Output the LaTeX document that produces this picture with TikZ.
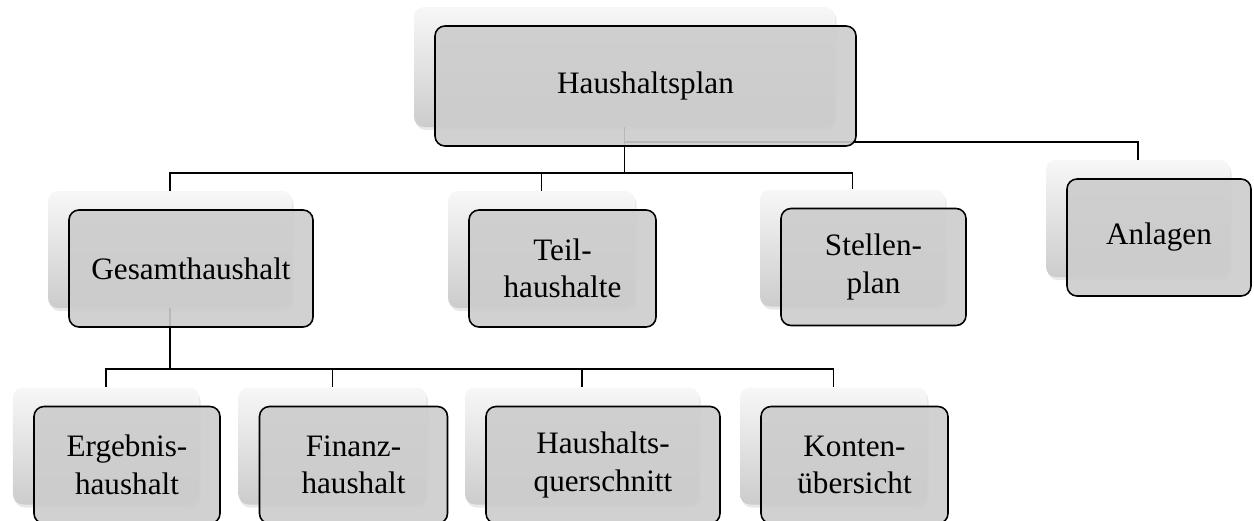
\documentclass[tikz,border=0pt]{standalone}
\usepackage{fontspec}
\setmainfont{Liberation Serif}
\usepackage{tikz}
\usetikzlibrary{positioning,shadows}
\tikzstyle{line} = [draw, line width=1pt]
\tikzstyle{back} = [rounded corners=0.2cm, minimum height=2.34cm, top color=white!97!black, bottom color=white!80!black, drop shadow={opacity=0.18,shadow xshift=0.03cm,shadow yshift=-0.06cm}]
\tikzstyle{box} = [draw, line width=0.9pt, rounded corners=0.2cm, fill=black!20, fill opacity=0.9, text opacity=1, minimum height=2.34cm, align=center, font=\fontsize{17.75}{21.3}\selectfont]

\begin{document}
\begin{tikzpicture}
   		\useasboundingbox (0,0) rectangle (25.08,-10.42);
   		% shadow boxes
   		\node[back, minimum width=8.42cm, minimum height=2.4cm] (planS) at (12.49,-1.34) {};
   		\node[back, minimum width=4.88cm] (gesamtS)  at (3.40,-4.99) {};
   		\node[back, minimum width=3.74cm] (teilS)    at (10.83,-4.99) {};
   		\node[back, minimum width=3.70cm] (stellenS) at (17.05,-4.96) {};
   		\node[back, minimum width=3.68cm] (anlagenS) at (22.76,-4.37) {};
   		\node[back, minimum width=3.72cm] (ergebnisS) at (2.12,-8.92) {};
   		\node[back, minimum width=3.76cm] (finanzS)  at (6.65,-8.92) {};
   		\node[back, minimum width=4.68cm] (querS)    at (11.64,-8.92) {};
   		\node[back, minimum width=3.74cm] (kontenS)  at (16.67,-8.92) {};
   		% connectors
   		\coordinate (bus1) at (12.49,-3.46); % top level bus
   		\coordinate (side) at (12.49,-2.84); % line to Anlagen
   		\coordinate (bus2) at (3.40,-7.38);  % bus below Gesamthaushalt
   		\draw[line] (planS.south) -- (bus1);
   		\foreach \n in {gesamtS,teilS,stellenS} { \draw[line] (bus1) -| (\n.north); }
   		\draw[line] (planS.south) -- (side) -| (anlagenS.north);
   		\draw[line] (gesamtS.south) -- (bus2);
   		\foreach \n in {ergebnisS,finanzS,querS,kontenS} { \draw[line] (bus2) -| (\n.north); }
   		% front boxes
   		\node[box, minimum width=8.42cm, minimum height=2.4cm] (plan) at ([shift={(0.42,-0.38)}]planS) {Haushaltsplan};
   		\node[box, minimum width=4.88cm] (gesamt)  at ([shift={(0.42,-0.38)}]gesamtS) {Gesamthaushalt};
   		\node[box, minimum width=3.74cm] (teil)    at ([shift={(0.42,-0.38)}]teilS) {Teil-\\haushalte};
   		\node[box, minimum width=3.70cm] (stellen) at ([shift={(0.42,-0.38)}]stellenS) {Stellen-\\plan};
   		\node[box, minimum width=3.68cm] (anlagen) at ([shift={(0.42,-0.38)}]anlagenS) {Anlagen};
   		\node[box, minimum width=3.72cm] (ergebnis) at ([shift={(0.42,-0.38)}]ergebnisS) {Ergebnis-\\haushalt};
   		\node[box, minimum width=3.76cm] (finanz)  at ([shift={(0.42,-0.38)}]finanzS) {Finanz-\\haushalt};
   		\node[box, minimum width=4.68cm] (quer)    at ([shift={(0.42,-0.38)}]querS) {Haushalts-\\querschnitt};
   		\node[box, minimum width=3.74cm] (konten)  at ([shift={(0.42,-0.38)}]kontenS) {Konten-\\übersicht};
\end{tikzpicture}
\end{document}
